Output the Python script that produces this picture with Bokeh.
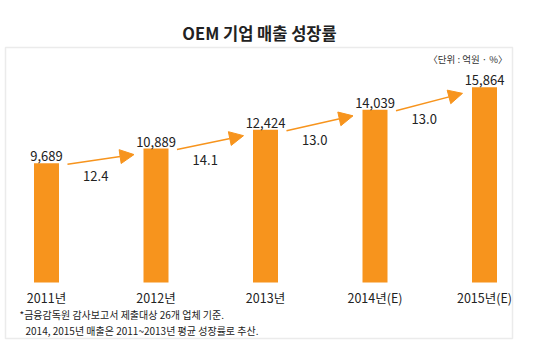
from bokeh.plotting import figure
from bokeh.models import Range1d, Arrow, NormalHead, Label, BoxAnnotation, ColumnDataSource
from bokeh.embed import file_html
from bokeh.resources import INLINE

years = ["2011년", "2012년", "2013년", "2014년(E)", "2015년(E)"]
sales = [9689, 10889, 12424, 14039, 15864]
growth = [12.4, 14.1, 13.0, 13.0]
title_text = "OEM 기업 매출 성장률"
unit_text = "〈단위 : 억원 · %〉"
notes = ["*금융감독원 감사보고서 제출대상 26개 업체 기준.",
         "2014, 2015년 매출은 2011~2013년 평균 성장률로 추산."]

W, H = 538, 351
X0PX, STEP = 46.0, 109.5      # pixel of first bar centre, spacing
BASE_PX, SCALE = 282.0, 0.0123  # pixel of zero, px per unit

def dx(pxx):
    return (pxx - X0PX) / STEP

def dy(pxy):
    return (BASE_PX - pxy) / SCALE

ORANGE = "#F7941D"
FONT = "Noto Sans CJK KR"

p = figure(width=W, height=H, output_backend="svg", toolbar_location=None,
           x_range=Range1d(dx(0), dx(W)), y_range=Range1d(dy(H), dy(0)),
           min_border=0, min_border_left=0, min_border_right=0,
           min_border_top=0, min_border_bottom=0)
p.axis.visible = False
p.grid.visible = False
p.outline_line_color = None
p.background_fill_color = "white"
p.border_fill_color = "white"

# frame box
p.add_layout(BoxAnnotation(left=dx(5), right=dx(512), top=dy(47), bottom=dy(338),
                           fill_color=None, line_color="#BDBDBD", line_width=1.5))

xs = list(range(len(years)))
src = ColumnDataSource(dict(x=xs, top=sales,
                            lab=[f"{v:,}" for v in sales], yr=years))
p.vbar(x="x", top="top", bottom=0, width=25 / STEP, source=src,
       fill_color=ORANGE, line_color=None)

# value labels
p.text(x="x", y="top", text="lab", source=src, text_align="center",
       text_baseline="bottom", y_offset=-2, text_font_size="13px",
       text_font={"value": FONT}, text_color="#222222")
# year labels
p.text(x="x", y=0, text="yr", source=src, text_align="center",
       text_baseline="top", y_offset=5, text_font_size="12.5px",
       text_font={"value": FONT}, text_color="#222222")

# growth arrows
px_per_unit = SCALE
for i, g in enumerate(growth):
    x_s = i + 21 / STEP
    y_s = sales[i] - 1 / px_per_unit
    x_e = i + 1 - 22 / STEP
    y_e = sales[i + 1] - 6 / px_per_unit
    p.add_layout(Arrow(x_start=x_s, y_start=y_s, x_end=x_e, y_end=y_e,
                       line_color=ORANGE, line_width=1.5,
                       end=NormalHead(size=14, fill_color=ORANGE, line_color=ORANGE)))
    mx = (x_s + x_e) / 2 - 5 / STEP
    my = (y_s + y_e) / 2 - 17 / px_per_unit
    p.add_layout(Label(x=mx, y=my, text=f"{g:.1f}", text_align="center",
                       text_baseline="middle", text_font_size="13px",
                       text_font=FONT, text_color="#222222"))

# title
p.add_layout(Label(x=dx(259), y=dy(32), text=title_text, text_align="center",
                   text_baseline="middle", text_font_size="16.5px",
                   text_font_style="bold", text_font=FONT, text_color="#222222"))
# unit
p.add_layout(Label(x=dx(507), y=dy(58), text=unit_text, text_align="right",
                   text_baseline="middle", text_font_size="9.5px",
                   text_font=FONT, text_color="#333333"))
# notes
p.add_layout(Label(x=dx(19), y=dy(314), text=notes[0], text_align="left",
                   text_baseline="middle", text_font_size="10px",
                   text_font=FONT, text_color="#222222"))
p.add_layout(Label(x=dx(25), y=dy(330), text=notes[1], text_align="left",
                   text_baseline="middle", text_font_size="10px",
                   text_font=FONT, text_color="#222222"))

open("out.html", "w").write(file_html(p, INLINE))
